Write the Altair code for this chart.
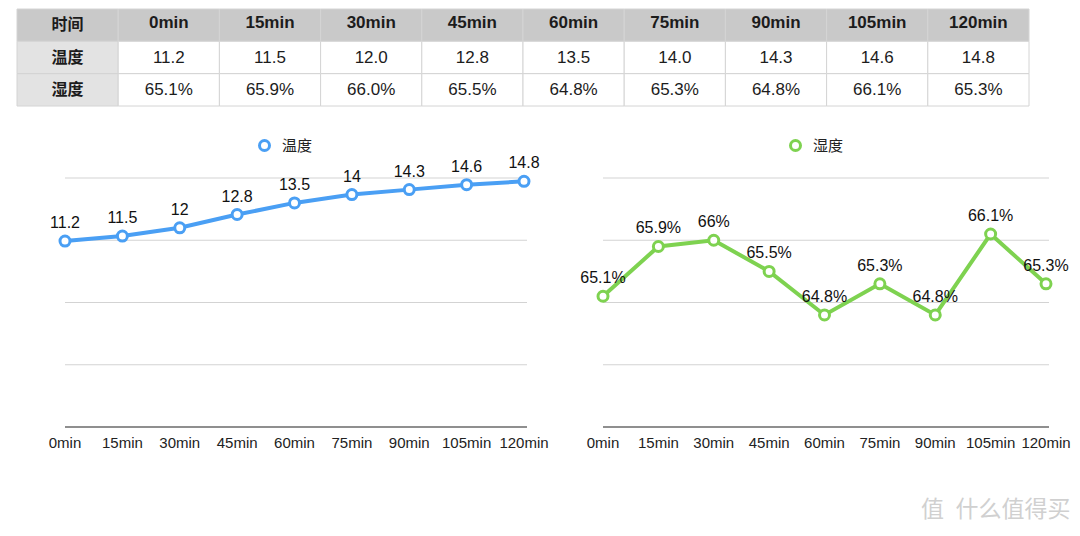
import altair as alt
import pandas as pd

# ---------------- data ----------------
times = ['0min', '15min', '30min', '45min', '60min', '75min', '90min', '105min', '120min']
temperature = [11.2, 11.5, 12.0, 12.8, 13.5, 14.0, 14.3, 14.6, 14.8]
humidity = [65.1, 65.9, 66.0, 65.5, 64.8, 65.3, 64.8, 66.1, 65.3]
row_labels = ['时间', '温度', '湿度']
temp_ticks = [0, 3.75, 7.5, 11.25, 15]
hum_ticks = [63, 64, 65, 66, 67]

LATIN = 'Liberation Sans'
CJK = 'Noto Sans CJK SC'
BLUE = '#4a9ff4'
GREEN = '#7ed250'
TEXT = '#1c1c1c'

W, H = 1059, 418

# ---------------- table ----------------
cols = [row_labels[0]] + times
cells = []
for r_i, r in enumerate(row_labels):
    for c_i, c in enumerate(cols):
        if c_i == 0:
            txt = r
        elif r_i == 0:
            txt = c
        elif r_i == 1:
            txt = f"{temperature[c_i - 1]:.1f}"
        else:
            txt = f"{humidity[c_i - 1]:.1f}%"
        if r_i == 0:
            bg, kind = '#c9c9c9', 'head'
        elif c_i == 0:
            bg, kind = '#e3e3e3', 'first'
        else:
            bg, kind = '#ffffff', 'body'
        if c_i == 0:
            kind = 'cjk'
        cells.append(dict(row=r, col=c, text=txt, bg=bg, kind=kind))
cells_df = pd.DataFrame(cells)

tx = alt.X('col:N', sort=cols, axis=None,
           scale=alt.Scale(type='band', domain=cols, range=[9, 1021], paddingInner=0, paddingOuter=0))
ty = alt.Y('row:N', sort=row_labels, axis=None,
           scale=alt.Scale(type='band', domain=row_labels, range=[0, 97], paddingInner=0, paddingOuter=0))

tbase = alt.Chart(cells_df)
t_rect = tbase.mark_rect(stroke='#d4d4d4', strokeWidth=1).encode(
    x=tx, y=ty, fill=alt.Fill('bg:N', scale=None))
t_head = tbase.transform_filter("datum.kind == 'head'").mark_text(
    font=LATIN, fontSize=17, fontWeight='bold', color=TEXT, dy=-2).encode(x=tx, y=ty, text='text:N')
t_body = tbase.transform_filter("datum.kind == 'body'").mark_text(
    font=LATIN, fontSize=17, color=TEXT).encode(x=tx, y=ty, text='text:N')
t_cjk = tbase.transform_filter("datum.kind == 'cjk'").mark_text(
    font=CJK, fontSize=16, fontWeight='bold', color=TEXT).encode(x=tx, y=ty, text='text:N')
table = alt.layer(t_rect, t_head, t_body, t_cjk)

# ---------------- line charts ----------------
df = pd.DataFrame({'time': times, 'temp': temperature, 'hum': humidity,
                   's1': ['温度'] * len(times), 's2': ['湿度'] * len(times)})


def line_chart(field, series, name, color, ydomain, ticks, xrange, label_expr, legend_x):
    xs = alt.Scale(type='point', domain=times, range=xrange, padding=0)
    ys = alt.Scale(domain=ydomain, range=[H, 169], nice=False, zero=False)
    x_plain = alt.X('time:O', sort=times, scale=xs, axis=None)
    y_enc = alt.Y(f'{field}:Q', scale=ys, axis=None)

    grid = alt.Chart(pd.DataFrame({'v': ticks[1:]})).mark_rule(
        color='#d3d3d3', strokeWidth=1, x2Offset=3).encode(
        x=alt.XDatum(times[0], type='ordinal', scale=xs, axis=None),
        x2=alt.X2Datum(times[-1]),
        y=alt.Y('v:Q', scale=ys, axis=None))
    base_rule = alt.Chart(pd.DataFrame({'v': ticks[:1]})).mark_rule(
        color='#6a6a6a', strokeWidth=1.5, x2Offset=3).encode(
        x=alt.XDatum(times[0], type='ordinal', scale=xs, axis=None),
        x2=alt.X2Datum(times[-1]),
        y=alt.Y('v:Q', scale=ys, axis=None))

    base = alt.Chart(df)
    # category labels below the baseline
    xlabels = base.mark_text(font=LATIN, fontSize=15, color='#222222', dy=16,
                             baseline='middle').encode(
        x=x_plain, y=alt.YDatum(ydomain[0], type='quantitative', scale=ys, axis=None),
        text='time:N')
    line = base.mark_line(color=color, strokeWidth=4).encode(x=x_plain, y=y_enc)
    pts = base.mark_point(filled=False, fill='white', strokeWidth=3, size=100, opacity=1).encode(
        x=x_plain, y=y_enc,
        color=alt.Color(f'{series}:N', scale=alt.Scale(domain=[name], range=[color]),
                        legend=alt.Legend(orient='none', legendX=legend_x, legendY=129, title=None,
                                          padding=0, labelFont=CJK, labelFontSize=15,
                                          labelColor='#222222', symbolType='circle',
                                          symbolSize=100, symbolStrokeWidth=3,
                                          symbolFillColor='white', labelOffset=10)))
    labels = base.transform_calculate(label=label_expr).mark_text(
        dy=-18, font=LATIN, fontSize=16, color='#111111').encode(
        x=x_plain, y=y_enc, text='label:N')
    return alt.layer(grid, base_rule, xlabels, line, pts, labels)


left = line_chart('temp', 's1', '温度', BLUE, [0, 15], temp_ticks, [57, 516],
                  "format(datum.temp, '~g')", 249)
right = line_chart('hum', 's2', '湿度', GREEN, [63, 67], hum_ticks, [595, 1038],
                   "format(datum.hum, '~g') + '%'", 780)

chart = alt.layer(table, left, right).resolve_scale(
    x='independent', y='independent', color='independent'
).properties(
    width=W, height=H, background='white',
    padding={'left': 0, 'top': 0, 'right': 0, 'bottom': 8},
    title=alt.TitleParams('值\u2002什么值得买', orient='bottom', anchor='end', fontSize=23,
                          font=CJK, fontWeight='normal', color='#d0d0d0', offset=48)
).configure_view(stroke=None)

chart.save("out.html", embed_options={"renderer": "svg", "actions": False})
